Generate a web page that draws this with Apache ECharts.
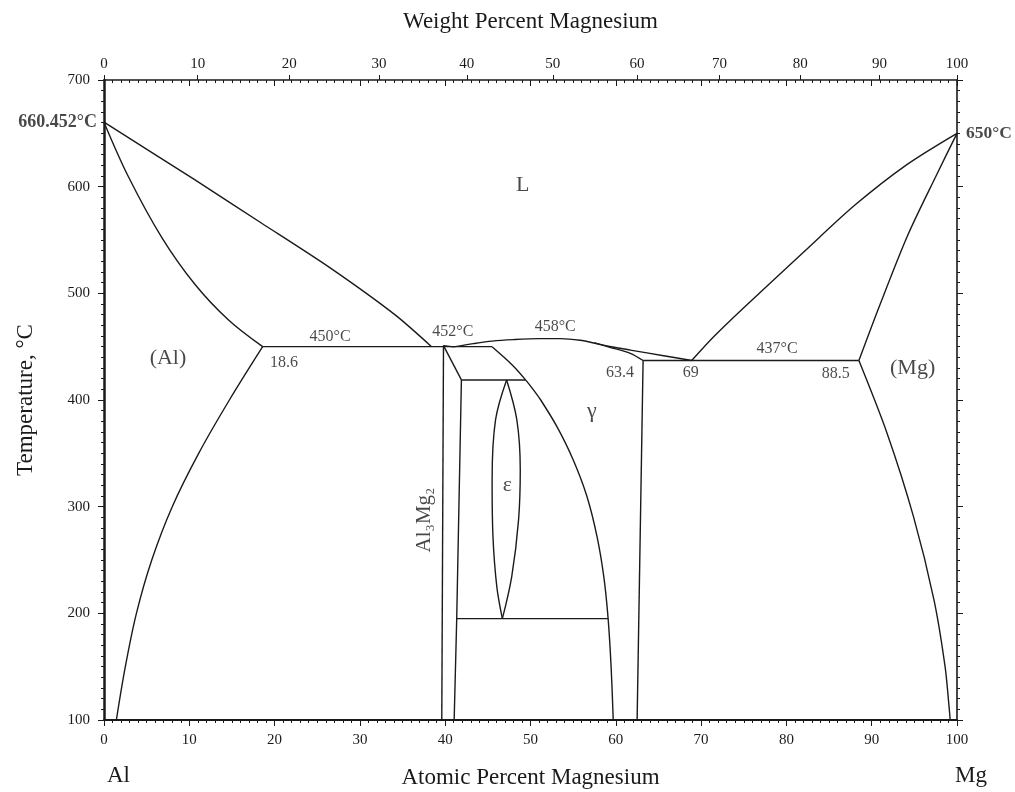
<!DOCTYPE html>
<html><head><meta charset="utf-8">
<script src="https://cdn.jsdelivr.net/npm/echarts@6/dist/echarts.min.js"></script>
<style>html,body{margin:0;padding:0;background:#fff}#c{width:1015px;height:792px}</style>
</head><body><div id="c"></div><script>
// ---------- data (atomic % Mg, temperature °C) ----------
const weightTickLabels = [0,10,20,30,40,50,60,70,80,90,100];
const alLiquidus = [[0,660.452],[10.67,606.3],[18.49,565.7],[26.3,525],[34.13,479.8],[38.4,450]];
const alSolidus = [[0,660.452],[2.85,609.5],[6.8,552],[10.7,508],[14.6,475],[18.6,450]];
const alSolvus = [[18.6,450],[14.7,400],[11.1,350],[8.0,300],[5.6,250],[3.8,200],[2.5,150],[1.45,100]];
const eutectic450 = [[18.6,450],[39.8,450]];
const al3mg2Left = [[39.8,451],[39.6,100]];
const liqPeakToEut = [[39.8,451],[41.0,449.8]];
const liquidusMid = [[41.0,449.8],[43.3,452.8],[45.5,455.2],[48,456.6],[51,457.5],[53.5,457.5],[55.8,456],[57.8,452.8],[59.3,450.2],[61.7,446.8],[65.6,441.5],[68.9,437]];
const eutectic450b = [[39.8,450],[45.5,450]];
const gammaSolidus = [[57.5,453.4],[59.3,449.4],[61.7,443.8],[63.2,437]];
const al3mg2RightTop = [[39.8,451],[41.9,418.8]];
const al3mg2Right = [[41.9,418.8],[41.35,195],[41.05,100]];
const peritectoid = [[41.9,418.8],[49.4,418.8]];
const gammaLeft = [[45.5,450],[46.9,440],[48.2,430],[49.3,420],[50.3,410],[51.2,400],[53.1,375],[55.0,344],[56.6,310],[57.8,272],[58.6,234],[59.1,195],[59.45,150],[59.7,100]];
const epsLeft = [[47.2,418.8],[45.9,381.3],[45.5,325],[45.6,272],[46.05,225],[46.7,195]];
const epsRight = [[47.2,418.8],[48.4,381.3],[48.8,334.5],[48.6,287.6],[47.8,234.5],[46.7,195]];
const line195 = [[41.35,195],[59.1,195]];
const gammaRight = [[63.2,437],[62.5,100]];
const eutectic437 = [[63.2,437],[88.5,437]];
const mgLiquidus = [[100,650],[94,620],[88,582.5],[82,538.5],[75,486.5],[71.5,459.5],[68.9,437]];
const mgSolidus = [[100,650],[97.6,611],[94.2,554],[91,490],[88.5,437]];
const mgSolvus = [[88.5,437],[91.8,368.9],[94.9,290.7],[97.3,212.7],[98.6,150.2],[99.1,109.6],[99.2,100]];

// annotations: [atomic %, °C, text, kind]
const annotations = [
  [49.1,601.6,'L','big'],
  [7.5,439.5,'(Al)','big'],
  [94.8,430,'(Mg)','big'],
  [57.2,389.8,'γ','big'],
  [47.3,320.4,'ε','big'],
  [37.6,287.5,'Al₃Mg₂','vert'],
  [26.5,459,'450°C','small'],
  [40.9,463.8,'452°C','small'],
  [52.9,468.5,'458°C','small'],
  [78.9,447.9,'437°C','small'],
  [21.1,434.8,'18.6','small'],
  [60.5,425.4,'63.4','small'],
  [68.8,425.4,'69','small'],
  [85.8,424.5,'88.5','small']
];
const edgeNotes = [[0,660.452,'660.452°C','left'],[100,650,'650°C','right']];

// ---------- helpers ----------
const M_AL = 26.982, M_MG = 24.305;
function wtToAt(w){ const a=w/M_MG, b=(100-w)/M_AL; return 100*a/(a+b); }
function atToWt(x){ const a=x*M_MG, b=(100-x)*M_AL; return 100*a/(a+b); }

const FONT = '"Liberation Serif","Times New Roman",serif';
const INK = '#1a1a1a';
const lineW = 1.4;

// [data, smooth]
const curves = [
  [alLiquidus,0.25],[alSolidus,0.35],[alSolvus,0.35],[eutectic450,0],[al3mg2Left,0],
  [liqPeakToEut,0],[liquidusMid,0.3],[eutectic450b,0],[gammaSolidus,0.3],
  [al3mg2RightTop,0],[al3mg2Right,0],[peritectoid,0],[gammaLeft,0.3],
  [epsLeft,0.35],[epsRight,0.35],[line195,0],[gammaRight,0],[eutectic437,0],
  [mgLiquidus,0.3],[mgSolidus,0.3],[mgSolvus,0.3]
];

const series = curves.map(([d,s]) => ({
  type:'line', data:d, smooth:s, symbol:'none', silent:true,
  lineStyle:{color:INK,width:lineW}, xAxisIndex:0, yAxisIndex:0, z:3
}));

const kindStyle = {
  big:{fontSize:22},
  vert:{fontSize:21, rotate:90},
  small:{fontSize:16}
};
series.push({
  type:'scatter', symbolSize:0.01, silent:true, itemStyle:{color:'transparent'},
  data: annotations.map(([x,t,txt,k]) => ({
    value:[x,t],
    label:Object.assign({show:true, position:'inside', formatter:txt, color:INK, fontFamily:FONT}, kindStyle[k])
  }))
});
series.push({
  type:'scatter', symbolSize:0.01, silent:true, itemStyle:{color:'transparent'}, clip:false,
  data: edgeNotes.map(([x,t,txt,p]) => ({
    value:[x,t],
    label:{show:true, position:p, distance:p==='left'?7:9, formatter:txt, color:INK, fontFamily:FONT, fontWeight:'bold', fontSize:p==='left'?18:17.5}
  }))
});

const tickLbl = {color:INK, fontFamily:FONT, fontSize:15};
const chart = echarts.init(document.getElementById('c'), null, {renderer:'canvas'});
chart.setOption({
  animation:false,
  backgroundColor:'#fff',
  grid:{left:104, right:58, top:80, bottom:72, containLabel:false, outerBoundsMode:'none'},
  xAxis:[
    { type:'value', position:'bottom', min:0, max:100, interval:10,
      name:'Atomic Percent Magnesium', nameLocation:'middle', nameGap:46,
      nameTextStyle:{color:INK, fontFamily:FONT, fontSize:23},
      axisLine:{show:true, onZero:false, lineStyle:{color:INK, width:2}},
      axisTick:{show:true, inside:false, length:6, lineStyle:{color:INK}},
      minorTick:{show:true, splitNumber:10, length:3, lineStyle:{color:INK}},
      axisLabel:Object.assign({margin:13}, tickLbl),
      splitLine:{show:false} },
    { type:'value', position:'top', min:0, max:100, interval:10,
      axisLine:{show:true, onZero:false, lineStyle:{color:INK, width:1.6}},
      axisTick:{show:true, inside:true, length:6, lineStyle:{color:INK}},
      minorTick:{show:true, splitNumber:10, length:3, lineStyle:{color:INK}},
      axisLabel:{show:false}, splitLine:{show:false} },
    { type:'value', position:'top', min:0, max:100,
      name:'Weight Percent Magnesium', nameLocation:'middle', nameGap:47,
      nameTextStyle:{color:INK, fontFamily:FONT, fontSize:23},
      axisLine:{show:false, onZero:false},
      axisTick:{show:true, inside:false, length:5, customValues:weightTickLabels.map(wtToAt), lineStyle:{color:INK}},
      axisLabel:Object.assign({margin:8, customValues:weightTickLabels.map(wtToAt),
        formatter:v => String(Math.round(atToWt(v)))}, tickLbl),
      splitLine:{show:false} }
  ],
  yAxis:[
    { type:'value', position:'left', min:100, max:700, interval:100,
      name:'Temperature, °C', nameLocation:'middle', nameGap:67,
      nameTextStyle:{color:INK, fontFamily:FONT, fontSize:23},
      axisLine:{show:true, onZero:false, lineStyle:{color:INK, width:2.5}},
      axisTick:{show:true, inside:false, length:6, lineStyle:{color:INK}},
      minorTick:{show:true, splitNumber:10, length:3, lineStyle:{color:INK}},
      axisLabel:Object.assign({margin:14}, tickLbl),
      splitLine:{show:false} },
    { type:'value', position:'right', min:100, max:700, interval:100,
      axisLine:{show:true, onZero:false, lineStyle:{color:INK, width:1.6}},
      axisTick:{show:true, inside:false, length:6, lineStyle:{color:INK}},
      minorTick:{show:true, splitNumber:10, length:3, lineStyle:{color:INK}},
      axisLabel:{show:false}, splitLine:{show:false} }
  ],
  graphic:[
    {type:'text', left:107, top:764, style:{text:'Al', fill:INK, font:'23px '+FONT}},
    {type:'text', left:955, top:764, style:{text:'Mg', fill:INK, font:'23px '+FONT}}
  ],
  series: series
});
</script></body></html>
